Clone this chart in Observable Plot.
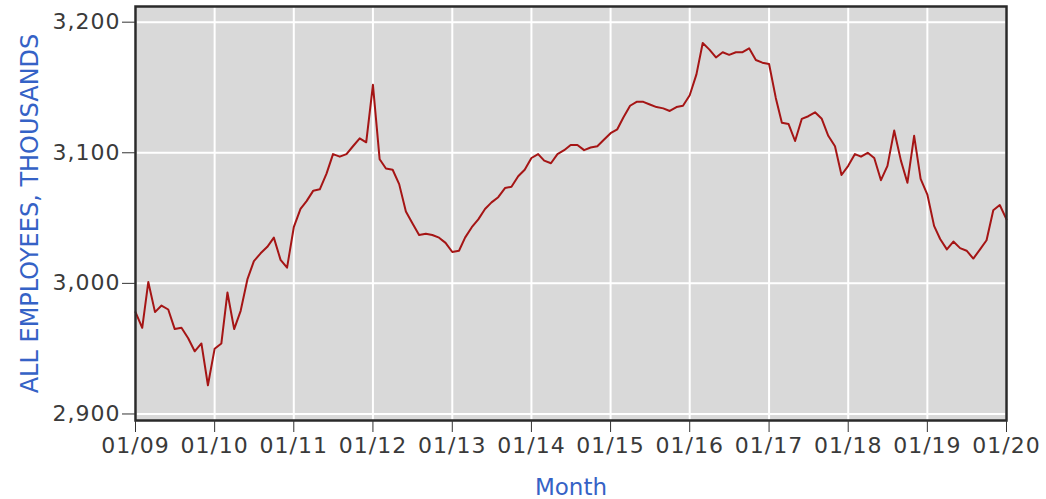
<!DOCTYPE html>
<html>
<head>
<meta charset="utf-8">
<script src="https://cdn.jsdelivr.net/npm/d3@7"></script>
<script src="https://cdn.jsdelivr.net/npm/@observablehq/plot@0.6"></script>
<style>
  html, body { margin: 0; padding: 0; background: #fff; }
  svg { display: block; }
  .ticklbl text { letter-spacing: 1px; }
</style>
</head>
<body>
<div id="chart"></div>
<script>
// Monthly values, Jan 2009 .. Jan 2020 (thousands)
const startMonth = "2009-01-01";
const values = [
  2978, 2966, 3001, 2978, 2983, 2980, 2965, 2966, 2958, 2948, 2954, 2922,
  2950, 2954, 2993, 2965, 2979, 3003, 3017, 3023, 3028, 3035, 3018, 3012,
  3043, 3057, 3063, 3071, 3072, 3084, 3099, 3097, 3099, 3105, 3111, 3108,
  3152, 3095, 3088, 3087, 3076, 3055, 3046, 3037, 3038, 3037, 3035, 3031,
  3024, 3025, 3035, 3043, 3049, 3057, 3062, 3066, 3073, 3074, 3082, 3087,
  3096, 3099, 3094, 3092, 3099, 3102, 3106, 3106, 3102, 3104, 3105, 3110,
  3115, 3118, 3127, 3136, 3139, 3139, 3137, 3135, 3134, 3132, 3135, 3136,
  3144, 3160, 3184, 3179, 3173, 3177, 3175, 3177, 3177, 3180, 3171, 3169,
  3168, 3142, 3123, 3122, 3109, 3126, 3128, 3131, 3126, 3113, 3105, 3083,
  3090, 3099, 3097, 3100, 3096, 3079, 3090, 3117, 3094, 3077, 3113, 3080,
  3068, 3044, 3034, 3026, 3032, 3027, 3025, 3019, 3026, 3033, 3056, 3060,
  3049
];
const xTickLabels = ["01/09","01/10","01/11","01/12","01/13","01/14","01/15","01/16","01/17","01/18","01/19","01/20"];
const yTicks = [2900, 3000, 3100, 3200];
const yLabel = "ALL EMPLOYEES, THOUSANDS";
const xLabel = "Month";

const start = new Date(startMonth);
const data = values.map((v, i) => ({date: d3.utcMonth.offset(start, i), value: v}));
const xTicks = xTickLabels.map((_, i) => d3.utcYear.offset(start, i));

const blue = "#3562c6";
const chart = Plot.plot({
  width: 1046,
  height: 499,
  marginLeft: 135,
  marginRight: 40,
  marginTop: 6,
  marginBottom: 79,
  style: {fontFamily: "DejaVu Sans, sans-serif", fontSize: "22px", color: "#333", background: "#fff"},
  x: {type: "utc", domain: [xTicks[0], xTicks[xTicks.length - 1]]},
  y: {domain: [2895, 3212]},
  marks: [
    Plot.frame({fill: "#d9d9d9", stroke: null}),
    Plot.gridX(xTicks, {stroke: "#fff", strokeOpacity: 1, strokeWidth: 2}),
    Plot.gridY(yTicks, {stroke: "#fff", strokeOpacity: 1, strokeWidth: 2}),
    Plot.lineY(data, {x: "date", y: "value", stroke: "#a51515", strokeWidth: 2}),
    Plot.frame({stroke: "#2a2a2a", strokeWidth: 2.5}),
    Plot.axisY(yTicks, {tickSize: 13, tickPadding: 2, tickFormat: d3.format(","), label: null, stroke: "#333", fill: "#3a3a3a", className: "ticklbl"}),
    Plot.axisX(xTicks, {tickSize: 12, tickPadding: 5, tickFormat: (d, i) => xTickLabels[i], label: null, stroke: "#333", fill: "#3a3a3a", className: "ticklbl"}),
    Plot.text([yLabel], {frameAnchor: "left", dx: -105, rotate: -90, textAnchor: "middle", lineAnchor: "middle", text: d => d, fill: blue, fontSize: 24}),
    Plot.text([xLabel], {frameAnchor: "bottom", dy: 67, textAnchor: "middle", lineAnchor: "middle", text: d => d, fill: blue, fontSize: 23})
  ]
});
document.getElementById("chart").appendChild(chart);
</script>
</body>
</html>
